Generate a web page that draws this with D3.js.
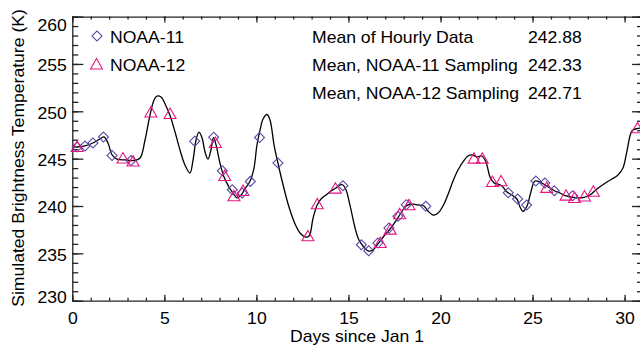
<!DOCTYPE html>
<html>
<head>
<meta charset="utf-8">
<script src="https://cdn.jsdelivr.net/npm/d3@7"></script>
<style>
  body { margin: 0; background: #fff; }
  svg { display: block; font-family: "Liberation Sans", Arial, sans-serif; }
</style>
</head>
<body>
<script>
// hourly simulated brightness temperature
const hourlyDays = [0.00, 0.26, 0.69, 1.12, 1.50, 1.72, 1.94, 2.16, 2.43, 2.86, 3.30, 3.68, 3.95, 4.22, 4.44, 4.60, 4.82, 5.09, 5.30, 5.58, 5.85, 6.12, 6.39, 6.56, 6.72, 6.88, 7.05, 7.21, 7.37, 7.53, 7.67, 7.81, 8.02, 8.24, 8.51, 8.73, 8.95, 9.17, 9.38, 9.66, 9.87, 10.03, 10.20, 10.36, 10.58, 10.74, 10.96, 11.17, 11.45, 11.77, 12.10, 12.37, 12.64, 12.86, 13.08, 13.30, 13.51, 13.78, 14.05, 14.32, 14.54, 14.70, 14.87, 15.08, 15.36, 15.57, 15.79, 16.06, 16.33, 16.60, 16.93, 17.26, 17.58, 17.85, 18.13, 18.40, 18.78, 19.10, 19.32, 19.60, 19.87, 20.19, 20.46, 20.68, 20.95, 21.22, 21.49, 21.71, 21.98, 22.25, 22.47, 22.69, 22.91, 23.12, 23.34, 23.61, 23.88, 24.15, 24.32, 24.48, 24.70, 24.91, 25.13, 25.40, 25.68, 25.95, 26.22, 26.49, 26.82, 27.14, 27.47, 27.79, 28.12, 28.50, 29.04, 29.64, 29.91, 30.13, 30.40, 30.67, 31.00];
const hourlyTemps = [246.28, 246.23, 246.34, 246.65, 247.07, 247.29, 246.65, 245.39, 244.96, 244.86, 244.80, 245.07, 246.97, 249.60, 251.19, 251.60, 251.50, 250.56, 249.60, 247.81, 245.91, 244.33, 243.49, 244.86, 246.97, 247.81, 247.18, 245.70, 244.96, 245.91, 247.23, 246.44, 244.54, 243.06, 242.00, 241.37, 240.85, 241.16, 241.80, 242.64, 244.01, 246.44, 248.03, 249.19, 249.66, 249.08, 246.44, 244.54, 242.22, 239.89, 238.10, 237.15, 236.73, 236.83, 238.73, 240.10, 240.74, 241.16, 241.58, 241.90, 242.22, 242.22, 241.69, 240.11, 237.68, 236.41, 235.78, 235.25, 235.36, 235.99, 236.83, 237.57, 238.42, 239.26, 240.00, 240.21, 240.11, 240.00, 239.47, 239.05, 239.26, 240.21, 241.48, 242.64, 243.80, 244.65, 245.28, 245.39, 245.18, 245.28, 244.65, 243.06, 242.43, 242.32, 242.11, 241.48, 241.16, 240.74, 239.90, 239.42, 240.00, 241.48, 242.64, 242.53, 242.22, 241.90, 241.58, 241.37, 241.06, 240.95, 240.85, 240.90, 241.16, 241.80, 242.53, 243.27, 244.01, 245.81, 247.92, 248.18, 248.24];

// NOAA-11 samples (diamonds)
const noaa11Days = [0.26, 0.69, 1.12, 1.69, 2.16, 3.19, 6.65, 7.68, 8.15, 8.69, 9.23, 9.67, 10.17, 11.17, 14.70, 15.70, 16.10, 16.60, 17.20, 17.69, 18.14, 19.20, 23.68, 24.19, 24.68, 25.18, 25.67, 26.18, 27.18];
const noaa11Temps = [246.23, 246.34, 246.65, 247.29, 245.33, 244.80, 246.83, 247.25, 243.73, 241.72, 241.37, 242.60, 247.23, 244.54, 242.14, 235.91, 235.28, 236.09, 237.68, 238.91, 240.14, 239.97, 241.40, 240.74, 240.10, 242.64, 242.43, 241.62, 241.09];

// NOAA-12 samples (triangles)
const noaa12Days = [0.26, 2.75, 3.30, 4.27, 5.31, 7.77, 8.28, 8.78, 9.27, 12.80, 13.31, 14.29, 16.73, 17.27, 17.78, 18.29, 21.82, 22.27, 22.82, 23.29, 25.77, 26.82, 27.28, 27.82, 28.30, 30.70];
const noaa12Temps = [246.12, 244.91, 244.59, 249.77, 249.61, 246.55, 243.06, 240.92, 241.48, 236.69, 240.07, 241.72, 235.99, 237.39, 239.02, 239.97, 244.89, 244.89, 242.43, 242.50, 241.80, 240.98, 240.74, 240.90, 241.40, 248.10];

const legendNames = ['NOAA-11', 'NOAA-12'];
const statLabels = ['Mean of Hourly Data', 'Mean, NOAA-11 Sampling', 'Mean, NOAA-12 Sampling'];
const statValues = ['242.88', '242.33', '242.71'];

const xMajor = [0, 5, 10, 15, 20, 25, 30];
const xMinor = d3.range(0, 32, 1);
const yMajor = [230, 235, 240, 245, 250, 255, 260];
const yMinor = d3.range(230, 261, 1);

const W = 640, H = 348;
const c11 = '#5b44a8', c12 = '#e8157f';
const stretch = 'scale(1.1,1)';

const svg = d3.select('body').append('svg')
  .attr('width', W)
  .attr('height', H);

const x = d3.scaleLinear().domain([0, 31]).range([72.3, 643]);
const y = d3.scaleLinear().domain([230, 260]).range([300.7, 16.6]);

// axes: majors + minors on all four sides, ticks inward
function styleAxis(g) {
  g.selectAll('path, line').attr('stroke', '#222').attr('stroke-width', 1.3);
  g.selectAll('text').attr('fill', '#000').attr('font-size', 16)
    .attr('font-family', '"Liberation Sans", Arial, sans-serif');
}

const axisB = svg.append('g').attr('transform', `translate(0,${y(230)})`);
axisB.call(d3.axisBottom(x).tickValues(xMajor).tickSizeInner(-6).tickSizeOuter(0).tickPadding(12));
axisB.append('g').call(d3.axisBottom(x).tickValues(xMinor).tickSize(-3).tickFormat(''))
  .select('.domain').remove();
styleAxis(axisB);
axisB.selectAll('text').attr('transform', stretch);

const axisT = svg.append('g').attr('transform', `translate(0,${y(260)})`);
axisT.call(d3.axisTop(x).tickValues(xMajor).tickSizeInner(-6).tickSizeOuter(0).tickFormat(''));
axisT.append('g').call(d3.axisTop(x).tickValues(xMinor).tickSize(-3).tickFormat(''))
  .select('.domain').remove();
styleAxis(axisT);

const axisL = svg.append('g').attr('transform', `translate(${x(0)},0)`);
axisL.call(d3.axisLeft(y).tickValues(yMajor).tickSizeInner(-11).tickSizeOuter(0).tickPadding(5));
axisL.append('g').call(d3.axisLeft(y).tickValues(yMinor).tickSize(-6).tickFormat(''))
  .select('.domain').remove();
styleAxis(axisL);
axisL.selectAll('.tick text')
  .attr('transform', stretch)
  .attr('dy', d => d === 260 ? '0.9em' : d === 230 ? '0.13em' : '0.42em');

const axisR = svg.append('g').attr('transform', `translate(${x(31)},0)`);
axisR.call(d3.axisRight(y).tickValues(yMajor).tickSizeInner(-11).tickSizeOuter(0).tickFormat(''));
axisR.append('g').call(d3.axisRight(y).tickValues(yMinor).tickSize(-6).tickFormat(''))
  .select('.domain').remove();
styleAxis(axisR);

// hourly curve
const line = d3.line()
  .x(d => x(d[0]))
  .y(d => y(d[1]))
  .curve(d3.curveCatmullRom.alpha(0.5));

svg.append('path')
  .datum(d3.zip(hourlyDays, hourlyTemps))
  .attr('fill', 'none')
  .attr('stroke', '#000')
  .attr('stroke-width', 1.3)
  .attr('d', line);

// sampled points
const diamond = d3.symbol().type(d3.symbolSquare).size(50);
const triangle = d3.symbol().type(d3.symbolTriangle).size(62);

svg.append('g').selectAll('path')
  .data(d3.zip(noaa11Days, noaa11Temps))
  .join('path')
  .attr('transform', d => `translate(${x(d[0])},${y(d[1])}) rotate(45)`)
  .attr('d', diamond)
  .attr('fill', 'none')
  .attr('stroke', c11)
  .attr('stroke-width', 1.1);

svg.append('g').selectAll('path')
  .data(d3.zip(noaa12Days, noaa12Temps))
  .join('path')
  .attr('transform', d => `translate(${x(d[0])},${y(d[1])})`)
  .attr('d', triangle)
  .attr('fill', 'none')
  .attr('stroke', c12)
  .attr('stroke-width', 1.1);

// legend
const legend = svg.append('g');
legend.append('path')
  .attr('transform', 'translate(97,36) rotate(45)')
  .attr('d', diamond).attr('fill', 'none').attr('stroke', c11).attr('stroke-width', 1.1);
legend.append('path')
  .attr('transform', 'translate(96.5,65.5)')
  .attr('d', triangle).attr('fill', 'none').attr('stroke', c12).attr('stroke-width', 1.1);
legend.selectAll('text')
  .data(legendNames)
  .join('text')
  .attr('transform', (d, i) => `translate(110,${42.7 + i * 28.3}) ${stretch}`)
  .attr('font-size', 16)
  .text(d => d);

// statistics block
const stats = svg.append('g');
stats.selectAll('text.lab')
  .data(statLabels)
  .join('text')
  .attr('class', 'lab')
  .attr('transform', (d, i) => `translate(312,${42.7 + i * 28.3}) ${stretch}`)
  .attr('font-size', 16)
  .text(d => d);
stats.selectAll('text.val')
  .data(statValues)
  .join('text')
  .attr('class', 'val')
  .attr('transform', (d, i) => `translate(528,${42.7 + i * 28.3}) ${stretch}`)
  .attr('font-size', 16)
  .text(d => d);

// axis titles
svg.append('text')
  .attr('transform', `translate(357,342) ${stretch}`)
  .attr('text-anchor', 'middle')
  .attr('font-size', 16)
  .text('Days since Jan 1');

svg.append('text')
  .attr('transform', 'translate(24,158) rotate(-90) scale(1.1,1)')
  .attr('text-anchor', 'middle')
  .attr('font-size', 16)
  .text('Simulated Brightness Temperature (K)');
</script>
</body>
</html>
